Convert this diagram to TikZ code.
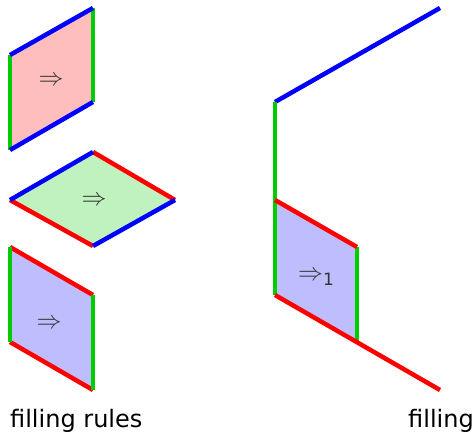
\documentclass[tikz,border=0pt]{standalone}
\usepackage{fontspec}
\setmainfont{DejaVu Sans}
\newcommand{\bigimp}{\resizebox{25pt}{!}{$\Rightarrow$}}
\begin{document}
\begin{tikzpicture}[x=1pt,y=-1pt,
  edge/.style={line width=4.5pt},
  bl/.style={edge,draw={rgb,255:red,0;green,0;blue,255}},
  rd/.style={edge,draw={rgb,255:red,255;green,0;blue,0}},
  gr/.style={edge,draw={rgb,255:red,0;green,204;blue,0}},
  lbl/.style={font=\fontsize{24}{26}\selectfont, inner sep=0pt},
  arr/.style={inner sep=0pt, text=black!80}]
\useasboundingbox (0,0) rectangle (476,434);
\definecolor{pinkf}{RGB}{255,190,190}
\definecolor{greenf}{RGB}{192,242,192}
\definecolor{bluef}{RGB}{190,190,255}
% top-left
\coordinate (a1) at (10,55); \coordinate (a2) at (93,8);
\coordinate (a3) at (93,102); \coordinate (a4) at (10,150);
\fill[pinkf] (a1)--(a2)--(a3)--(a4)--cycle;
\draw[gr] (a1)--(a4); \draw[gr] (a2)--(a3);
\draw[bl] (a1)--(a2); \draw[bl] (a4)--(a3);
\node[arr] (ta) at (51,81) {\bigimp};
% middle diamond
\coordinate (b1) at (10,200); \coordinate (b2) at (93,152);
\coordinate (b3) at (175,200); \coordinate (b4) at (93,246);
\fill[greenf] (b1)--(b2)--(b3)--(b4)--cycle;
\draw[rd] (b2)--(b3); \draw[rd] (b1)--(b4);
\draw[bl] (b1)--(b2); \draw[bl] (b4)--(b3);
\node[arr] (tb) at (94,201) {\bigimp};
% bottom-left
\coordinate (c1) at (10,247); \coordinate (c2) at (93,295);
\coordinate (c3) at (93,390); \coordinate (c4) at (10,342);
\fill[bluef] (c1)--(c2)--(c3)--(c4)--cycle;
\draw[rd] (c1)--(c2); \draw[rd] (c4)--(c3);
\draw[gr] (c1)--(c4); \draw[gr] (c2)--(c3);
\node[arr] (tc) at (49,324) {\bigimp};
% right filling
\coordinate (d0) at (440,8); \coordinate (d1) at (275,102);
\coordinate (d2) at (275,200); \coordinate (d3) at (357,247);
\coordinate (d4) at (357,342); \coordinate (d5) at (275,295);
\coordinate (d6) at (440,390);
\fill[bluef] (d2)--(d3)--(d4)--(d5)--cycle;
\draw[bl] (d0)--(d1);
\draw[gr] (d1)--(d5);
\draw[gr] (d3)--(d4);
\draw[rd] (d2)--(d3);
\draw[rd] (d5)--(d6);
\node[arr, anchor=west] (td) at (298,278) {\bigimp\raisebox{-5pt}{\fontsize{17}{18}\selectfont 1}};
% labels
\node[lbl, anchor=base west] (l1) at (10,427) {filling rules};
\node[lbl, anchor=base east] (l2) at (474,427) {filling};
\end{tikzpicture}
\end{document}
